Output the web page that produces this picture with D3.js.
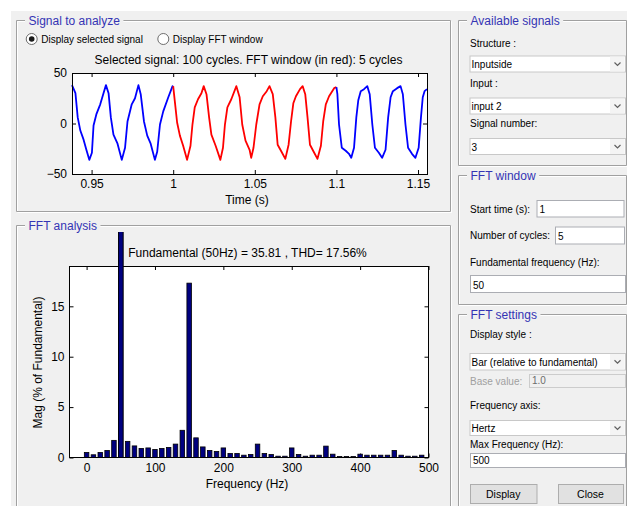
<!DOCTYPE html>
<html>
<head>
<meta charset="utf-8">
<script src="https://cdn.jsdelivr.net/npm/d3@7"></script>
<style>
body { margin: 0; background: #fff; }
svg text { font-family: "Liberation Sans", Arial, sans-serif; }
</style>
</head>
<body>
<svg id="fig" width="627" height="506"></svg>
<script>
// signal (time in s, value)
const sigTime = [0.9380,0.9401,0.9415,0.9431,0.9451,0.9468,0.9486,0.9502,0.9512,0.9529,0.9553,0.9573,0.9588,
  0.9604,0.9618,0.9634,0.9659,0.9685,0.9705,0.9720,0.9746,0.9766,0.9787,
  0.9801,0.9821,0.9841,0.9862,0.9888,0.9902,0.9919,0.9939,0.9970,0.9996,
  1.0000,1.0010,1.0024,1.0041,1.0061,1.0085,1.0106,1.0118,1.0132,1.0152,1.0173,1.0187,
  1.0204,1.0220,1.0234,1.0260,1.0289,1.0305,1.0317,1.0332,1.0356,1.0387,
  1.0407,1.0423,1.0443,1.0468,1.0478,1.0492,1.0509,1.0529,1.0549,1.0573,1.0590,
  1.0610,1.0626,1.0640,1.0667,1.0687,1.0707,1.0722,1.0736,1.0752,1.0777,1.0793,
  1.0809,1.0823,1.0838,1.0864,1.0884,1.0905,1.0919,1.0935,1.0955,1.0986,1.1000,
  1.1006,1.1016,1.1033,1.1057,1.1077,1.1091,1.1108,1.1122,1.1134,1.1149,1.1169,1.1189,
  1.1204,1.1220,1.1236,1.1260,1.1280,1.1301,1.1317,1.1332,1.1346,1.1372,1.1393,
  1.1407,1.1423,1.1439,1.1463,1.1484,1.1504,1.1518,1.1529,1.1540,1.1555];
const sigValue = [38,30,6,-7,-16,-26,-36,-29,-2,9,19,30,38,
  30,6,-11,-20,-36,-24,2,19,25,38,
  29,2,-12,-20,-36,-28,-1,12,26,37,
  37,22,1,-12,-22,-36,-22,-1,16,24,30,37,
  29,6,-11,-22,-36,-24,-1,16,24,37,
  26,-1,-17,-26,-34,-24,-1,19,27,32,37,
  29,6,-21,-29,-35,-21,2,20,27,34,37,
  29,6,-21,-29,-35,-22,2,19,27,35,36,
  29,-1,-24,-27,-30,-34,-24,6,23,32,34,37,
  29,-1,-24,-29,-34,-26,6,26,32,35,37,
  29,-1,-24,-30,-34,-24,6,26,32,34];
const fftWindow = [1.0, 1.1];
const timeTicks = [0.95, 1, 1.05, 1.1, 1.15];
const timeTickLabels = ["0.95", "1", "1.05", "1.1", "1.15"];
const sigTicks = [-50, 0, 50];

// harmonic spectrum (% of fundamental)
const freqHz = [0,10,20,30,40,50,60,70,80,90,100,110,120,130,140,150,160,170,180,190,
  200,210,220,230,240,250,260,270,280,290,300,310,320,330,340,350,360,370,380,390,
  400,410,420,430,440,450,460,470,480,490];
const magPct = [0.5,0.27,0.5,0.7,1.7,100,1.6,1.15,0.9,0.95,0.8,0.9,1.0,1.33,2.7,17.3,1.95,1.05,0.7,0.6,
  0.95,0.4,0.4,0.23,0.3,1.33,0.4,0.3,0.13,0.13,0.95,0.3,0.13,0.23,0.23,1.13,0.33,0.1,0.1,0.1,
  0.33,0.23,0.23,0.23,0.23,0.7,0.23,0.13,0.13,0.23];
const freqTicks = [0, 100, 200, 300, 400, 500];
const magTicks = [0, 5, 10, 15];

const svg = d3.select("#fig");
const blueTitle = "#3434b4";

svg.append("rect").attr("x", 11).attr("y", 11).attr("width", 616).attr("height", 495).attr("fill", "#f0f0f0");

function panel(x, y, w, h, title) {
  let g = svg.append("g");
  let lines = [[x, y, x + w, y], [x, y, x, y + h], [x + w, y, x + w, y + h], [x, y + h, x + w, y + h]];
  lines.forEach(l => {
    g.append("line").attr("x1", l[0] + 0.5).attr("y1", l[1] + 0.5).attr("x2", l[2] + 0.5).attr("y2", l[3] + 0.5)
      .attr("stroke", "#a0a0a0");
    g.append("line").attr("x1", l[0] + 1.5).attr("y1", l[1] + 1.5).attr("x2", l[2] + 1.5).attr("y2", l[3] + 1.5)
      .attr("stroke", "#ffffff");
  });
  let t = g.append("text").attr("x", x + 12.5).attr("y", y + 5).attr("font-size", 12).attr("fill", blueTitle).text(title);
  let bw = t.node().getComputedTextLength();
  g.insert("rect", "text").attr("x", x + 9).attr("y", y - 4).attr("width", bw + 7).attr("height", 8).attr("fill", "#f0f0f0");
}

panel(16, 20, 434, 191, "Signal to analyze");
panel(16, 225, 434, 300, "FFT analysis");
panel(458, 20, 168, 145, "Available signals");
panel(458, 175, 168, 129, "FFT window");
panel(458, 314, 168, 220, "FFT settings");

function label(x, y, txt, col) {
  svg.append("text").attr("x", x).attr("y", y).attr("font-size", 10).attr("fill", col || "#000").text(txt);
}
function dropdown(x, y, w, h, txt) {
  svg.append("rect").attr("x", x + 0.5).attr("y", y + 0.5).attr("width", w).attr("height", h)
    .attr("fill", "#fff").attr("stroke", "#c8c8c8");
  svg.append("rect").attr("x", x + w - 15).attr("y", y + 1).attr("width", 14.5).attr("height", h - 1).attr("fill", "#f4f4f4");
  let cx = x + w - 7.5, cy = y + h / 2 + 1;
  svg.append("path").attr("d", `M${cx - 3},${cy - 2}L${cx},${cy + 1}L${cx + 3},${cy - 2}`)
    .attr("fill", "none").attr("stroke", "#606060").attr("stroke-width", 1.2);
  label(x + 2, y + h - 3.5, txt);
}
function field(x, y, w, h, txt, off) {
  svg.append("rect").attr("x", x + 0.5).attr("y", y + 0.5).attr("width", w).attr("height", h)
    .attr("fill", off ? "#f0f0f0" : "#fff").attr("stroke", off ? "#cccccc" : "#abadb3");
  label(x + 3, y + h - 3.5, txt, off ? "#6d6d6d" : "#000");
}
function button(x, y, w, h, txt) {
  svg.append("rect").attr("x", x + 0.5).attr("y", y + 0.5).attr("width", w).attr("height", h)
    .attr("fill", "#e1e1e1").attr("stroke", "#adadad");
  svg.append("text").attr("x", x + w / 2).attr("y", y + h / 2 + 4).attr("text-anchor", "middle")
    .attr("font-size", 10.5).text(txt);
}

// right side controls
label(470, 46.5, "Structure :");
dropdown(469.5, 55.5, 155.5, 16, "Inputside");
label(470, 86.5, "Input :");
dropdown(469.5, 97.5, 155.5, 16, "input 2");
label(470, 127, "Signal number:");
dropdown(469.5, 138, 155.5, 16, "3");

label(470, 213, "Start time (s):");
field(536.5, 200, 87, 16.5, "1");
label(470, 239, "Number of cycles:");
field(555, 226.5, 69, 17, "5");
label(470, 265.5, "Fundamental frequency (Hz):");
field(470, 275, 155, 17, "50");

label(470, 338, "Display style :");
dropdown(469.5, 353, 155.5, 16.5, "Bar (relative to fundamental)");
label(470, 384.5, "Base value:", "#a0a0a0");
field(529, 374, 96, 13, "1.0", true);
label(470, 409, "Frequency axis:");
dropdown(469.5, 420, 155.5, 15, "Hertz");
label(470, 448, "Max Frequency (Hz):");
field(470, 453, 155, 14, "500");
button(470, 484, 66.5, 19, "Display");
button(558, 484, 65, 19, "Close");

// radio buttons
[[31.7, "Display selected signal", true], [163.3, "Display FFT window", false]].forEach(r => {
  svg.append("circle").attr("cx", r[0]).attr("cy", 39).attr("r", 5.5).attr("fill", "#fff").attr("stroke", "#6e6e6e");
  if (r[2]) svg.append("circle").attr("cx", r[0]).attr("cy", 39).attr("r", 2.8).attr("fill", "#1a1a1a");
  label(r[0] + 9.5, 43, r[1]);
});

function boxAxes(g, x, y, xt, yt, xfmt, w, h) {
  g.append("rect").attr("x", x.range()[0]).attr("y", y.range()[1]).attr("width", w).attr("height", h).attr("fill", "#fff");
  let ax = g.append("g").attr("transform", `translate(0,${y.range()[0]})`)
    .call(d3.axisBottom(x).tickValues(xt).tickFormat(xfmt).tickSize(-4).tickPadding(5.5));
  g.append("g").attr("transform", `translate(0,${y.range()[1]})`)
    .call(d3.axisTop(x).tickValues(xt).tickFormat("").tickSize(-4));
  let ay = g.append("g").attr("transform", `translate(${x.range()[0]},0)`)
    .call(d3.axisLeft(y).tickValues(yt).tickSize(-4).tickPadding(5));
  g.append("g").attr("transform", `translate(${x.range()[1]},0)`)
    .call(d3.axisRight(y).tickValues(yt).tickFormat("").tickSize(-4));
  g.selectAll(".domain").remove();
  g.selectAll(".tick line").attr("stroke", "#000");
  g.selectAll(".tick text").attr("font-size", 12).attr("fill", "#000").attr("font-family", "Liberation Sans, Arial, sans-serif");
}

// signal plot
const xT = d3.scaleLinear().domain([0.938, 1.1555]).range([72, 427]);
const yS = d3.scaleLinear().domain([-50, 50]).range([174, 73]);
const gS = svg.append("g");
boxAxes(gS, xT, yS, timeTicks, sigTicks, (d, i) => timeTickLabels[i], 355, 101);

const pts = sigTime.map((t, i) => [t, sigValue[i]]);
const line = d3.line().x(d => xT(d[0])).y(d => yS(d[1]));
const parts = [
  [pts.filter(d => d[0] <= fftWindow[0]), "#0000ff"],
  [pts.filter(d => d[0] >= fftWindow[0] && d[0] <= fftWindow[1]), "#ff0000"],
  [pts.filter(d => d[0] >= fftWindow[1]), "#0000ff"]
];
parts.forEach(p => {
  gS.append("path").attr("d", line(p[0])).attr("fill", "none").attr("stroke", p[1])
    .attr("stroke-width", 1.8).attr("stroke-linejoin", "round");
});
gS.append("rect").attr("x", 72.5).attr("y", 73.5).attr("width", 355).attr("height", 101)
  .attr("fill", "none").attr("stroke", "#000");
svg.append("text").attr("x", 248.5).attr("y", 64).attr("text-anchor", "middle").attr("font-size", 12)
  .text("Selected signal: 100 cycles. FFT window (in red): 5 cycles");
svg.append("text").attr("x", 247).attr("y", 204).attr("text-anchor", "middle").attr("font-size", 12)
  .text("Time (s)");

// FFT bar plot
const xF = d3.scaleLinear().domain([-25, 500]).range([69.5, 428.5]);
const yF = d3.scaleLinear().domain([0, 19]).range([457.5, 266]);
const gF = svg.append("g");
boxAxes(gF, xF, yF, freqTicks, magTicks, d => d, 359, 191.5);

svg.append("clipPath").attr("id", "barclip").append("rect")
  .attr("x", 60).attr("y", 232).attr("width", 380).attr("height", 226);
const bw = (xF(10) - xF(0)) * 0.66;
gF.append("g").attr("clip-path", "url(#barclip)")
  .selectAll("rect").data(freqHz).enter().append("rect")
  .attr("x", d => xF(d) - bw / 2)
  .attr("y", (d, i) => yF(magPct[i]))
  .attr("width", bw)
  .attr("height", (d, i) => yF(0) - yF(magPct[i]))
  .attr("fill", "#000080").attr("stroke", "#000").attr("stroke-width", 0.8);
gF.append("rect").attr("x", 69.5).attr("y", 266.5).attr("width", 359).attr("height", 191)
  .attr("fill", "none").attr("stroke", "#000");
// tall fundamental bar drawn over the frame
gF.append("rect").attr("clip-path", "url(#barclip)")
  .attr("x", xF(freqHz[5]) - bw / 2).attr("y", yF(magPct[5])).attr("width", bw)
  .attr("height", yF(0) - yF(magPct[5])).attr("fill", "#000080").attr("stroke", "#000").attr("stroke-width", 0.8);

svg.append("text").attr("x", 247.5).attr("y", 257).attr("text-anchor", "middle").attr("font-size", 12)
  .text("Fundamental (50Hz) = 35.81 , THD= 17.56%");
svg.append("text").attr("x", 247).attr("y", 487.5).attr("text-anchor", "middle").attr("font-size", 12)
  .text("Frequency (Hz)");
svg.append("text").attr("transform", "translate(42,362.5) rotate(-90)").attr("text-anchor", "middle")
  .attr("font-size", 12).text("Mag (% of Fundamental)");
</script>
</body>
</html>
